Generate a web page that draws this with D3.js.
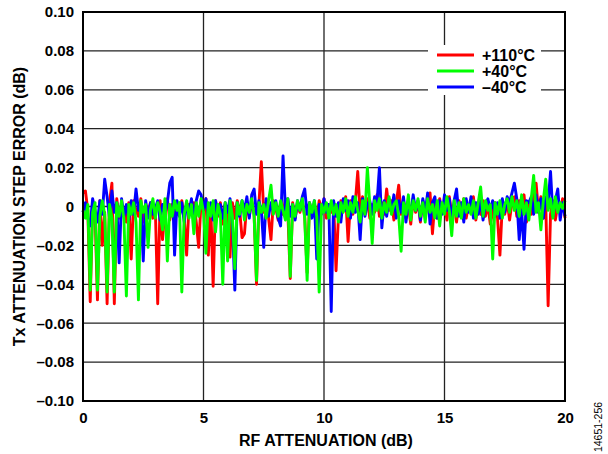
<!DOCTYPE html>
<html><head><meta charset="utf-8">
<script src="https://cdn.jsdelivr.net/npm/d3@7"></script>
<style>body{margin:0;background:#fff}svg{display:block}text{font-family:"Liberation Sans",Arial,sans-serif}</style>
</head><body>
<svg id="c" width="608" height="454"></svg>
<script>
// x: RF attenuation 0..20 dB in 0.1 dB steps; values in units of 0.001 dB
const xStep = 0.1;
const red110 = [7,8,-2,-49,1,-4,-48,3,-20,-3,
-50,2,12,-50,4,-6,1,-3,-8,2,
-27,3,-2,-5,4,-8,1,-3,2,-6,
0,-50,3,-17,-2,4,-7,1,-5,2,
-3,3,-6,-25,1,-4,2,-8,-21,3,
-2,4,-25,1,-41,3,-5,2,-9,1,
-4,-26,2,-6,3,-2,-16,-14,2,-5,
3,-4,-40,1,23,-3,2,-6,-17,3,
-1,-7,2,-4,4,-3,-37,2,-6,1,
-3,3,-5,-34,2,-4,1,-7,3,-2,
4,-6,1,-3,2,-33,-5,3,-2,5,
-18,3,-4,2,18,-3,5,-2,4,-6,
1,-3,6,-5,2,-4,9,-2,3,-7,
2,11,-4,3,-6,1,-9,4,-3,2,
-8,3,-5,1,7,-14,2,-6,4,-3,
2,-7,5,-4,1,-8,3,-2,4,-6,
1,-3,5,-7,2,-4,3,-5,1,-9,
-3,2,-6,-25,1,-4,3,-7,2,5,
-5,3,-2,6,-8,2,-4,4,12,-3,
5,-6,2,-51,-4,3,-7,1,-3,4,
-6];
const blueM40 = [-3,2,-6,-10,4,-2,-8,3,-4,14,
5,-6,8,-3,2,-29,4,-5,1,-7,
3,-4,9,-2,1,-28,3,-6,2,-4,
-1,3,-7,1,-4,2,12,15,-25,3,
-5,2,-8,1,-3,4,-6,3,8,6,
-2,4,-5,2,-7,3,-4,1,-6,2,
-3,4,-8,-43,2,-5,3,-2,5,-6,
6,9,-4,3,-2,-21,4,-5,2,-3,
3,-6,-10,26,-2,4,-5,1,-7,3,
-2,5,9,-4,2,-6,3,-27,1,-4,
4,-3,1,-54,3,-5,2,-8,4,-2,
3,-6,5,-3,2,-17,4,-5,1,3,
-4,5,2,20,-11,3,-5,4,-2,6,
-6,3,-3,5,-8,2,-4,6,-2,3,
-7,4,-3,7,-9,2,5,-6,3,-4,
6,-2,4,-7,3,9,-5,2,-8,4,
-3,5,-6,2,-4,3,-7,1,4,-2,
3,-5,2,-6,4,-3,5,2,7,12,
4,-17,-2,-22,3,2,5,-4,6,-3,
4,-6,5,2,18,-5,3,9,-7,2,
-5];
const green40 = [-2,-6,1,-43,-3,2,-43,-5,3,-4,
-44,1,-6,-44,2,-5,3,-7,-46,1,
-4,2,-8,-48,3,-3,1,-21,-2,4,
-6,2,-3,-12,4,-28,1,-5,3,-2,
2,-44,-4,3,-6,1,-14,2,-5,4,
-3,-24,2,-5,3,-13,1,-4,-40,2,
-28,3,-5,-32,2,-4,3,-7,1,-3,
4,-5,-38,2,-3,1,-6,3,11,-4,
2,-5,3,-2,-7,4,-36,1,-5,3,
-2,4,-6,-38,2,-3,3,-5,-44,1,
-3,2,-6,3,-4,1,-8,2,-3,4,
-5,2,-3,5,-2,-8,3,-4,20,1,
-19,3,-2,4,-6,2,-3,5,-4,1,
3,-5,-23,2,-4,6,-7,3,-2,4,
-5,2,-8,4,-3,1,-6,3,-10,2,
-4,5,-2,-15,3,-5,2,-6,4,-3,
1,-4,3,-6,2,10,-5,3,-2,1,
-27,2,-4,3,-6,1,4,-3,5,-2,
3,-5,6,-4,2,-7,4,16,-3,2,
-12,3,14,-2,4,-6,5,-3,2,-1,
3];
const seriesNames = ["+110°C","+40°C","–40°C"];
const seriesColors = ["#ff0000","#00ff00","#0000ff"];
const xTicks = [0,5,10,15,20];
const yTicks = [0.10,0.08,0.06,0.04,0.02,0,-0.02,-0.04,-0.06,-0.08,-0.10];
const yTickLabels = ["0.10","0.08","0.06","0.04","0.02","0","–0.02","–0.04","–0.06","–0.08","–0.10"];

const FONT = "'Liberation Sans',Arial,sans-serif";
const svg = d3.select("#c");
const L=83, R=565, T=12, B=401;
const x = d3.scaleLinear().domain([0,20]).range([L,R]);
const y = d3.scaleLinear().domain([-0.10,0.10]).range([B,T]);

// grid
const g = svg.append("g");
g.selectAll(".gx").data(xTicks.slice(1,-1)).enter().append("line")
 .attr("x1",d=>x(d)).attr("x2",d=>x(d)).attr("y1",T).attr("y2",B)
 .attr("stroke","#222").attr("stroke-width",1.3);
g.selectAll(".gy").data(yTicks.slice(1,-1)).enter().append("line")
 .attr("x1",L).attr("x2",R).attr("y1",d=>y(d)).attr("y2",d=>y(d))
 .attr("stroke","#222").attr("stroke-width",1.3);

// series
const line = d3.line().x((d,i)=>x(i*xStep)).y(d=>y(d/1000)).curve(d3.curveLinear);
const plot = svg.append("g");
[[red110,0],[blueM40,2],[green40,1]].forEach(([arr,ci])=>{
  plot.append("path").datum(arr).attr("d",line).attr("fill","none")
   .attr("stroke",seriesColors[ci]).attr("stroke-width",2.9).attr("stroke-linejoin","round");
});

// legend
const lg = svg.append("g");
lg.append("rect").attr("x",428).attr("y",45).attr("width",113).attr("height",50).attr("fill","#fff");
[0,1,2].forEach(i=>{
  const yy = 55 + i*16;
  lg.append("line").attr("x1",437).attr("x2",474).attr("y1",yy).attr("y2",yy)
    .attr("stroke",seriesColors[i]).attr("stroke-width",3);
  lg.append("text").attr("x",482).attr("y",yy+6).attr("font-size",16).attr("font-weight","bold")
    .text(seriesNames[i]);
});

// frame
svg.append("rect").attr("x",L).attr("y",T).attr("width",R-L).attr("height",B-T)
 .attr("fill","none").attr("stroke","#000").attr("stroke-width",2);

// axes via d3 axis generators (labels only)
const ya = d3.axisLeft(y).tickValues(yTicks).tickSize(0).tickPadding(9)
 .tickFormat((d,i)=>yTickLabels[i]);
const yg = svg.append("g").attr("transform",`translate(${L},0)`).call(ya);
yg.select(".domain").remove();
yg.selectAll("text").attr("font-size",15).attr("font-weight","bold").attr("fill","#000")
  .attr("font-family",FONT);

const xa = d3.axisBottom(x).tickValues(xTicks).tickSize(0).tickPadding(11).tickFormat(d=>String(d));
const xg = svg.append("g").attr("transform",`translate(0,${B})`).call(xa);
xg.select(".domain").remove();
xg.selectAll("text").attr("font-size",15).attr("font-weight","bold").attr("fill","#000")
  .attr("font-family",FONT);

// titles
svg.append("text").attr("x",(L+R)/2+2).attr("y",446).attr("text-anchor","middle")
 .attr("font-size",16).attr("font-weight","bold").text("RF ATTENUATION (dB)");
svg.append("text").attr("transform",`translate(25,${(T+B)/2}) rotate(-90)`).attr("text-anchor","middle")
 .attr("font-size",16).attr("font-weight","bold").text("Tx ATTENUATION STEP ERROR (dB)");
svg.append("text").attr("transform",`translate(602,427) rotate(-90)`).attr("text-anchor","middle")
 .attr("font-size",10.5).text("14651-256");
</script>
</body></html>
